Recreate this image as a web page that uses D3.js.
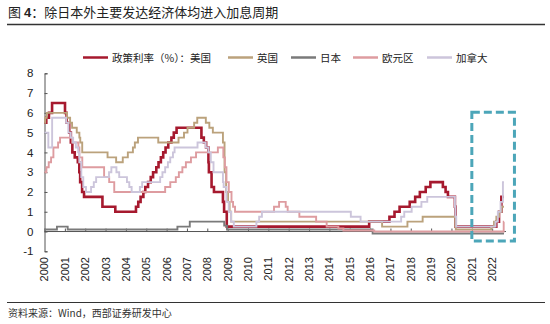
<!DOCTYPE html>
<html><head><meta charset="utf-8">
<script src="https://cdn.jsdelivr.net/npm/d3@7"></script>
<style>body{margin:0;background:#fff}svg{display:block}</style>
</head><body>
<svg id="c" width="550" height="324"></svg>
<script>
const usDates = ["2000-01-01","2000-02-02","2000-03-21","2000-05-16","2001-01-03","2001-01-31","2001-03-20","2001-04-18","2001-05-15","2001-06-27","2001-08-21","2001-09-17","2001-10-02","2001-11-06","2001-12-11","2002-11-06","2003-06-25","2004-06-30","2004-08-10","2004-09-21","2004-11-10","2004-12-14","2005-02-02","2005-03-22","2005-05-03","2005-06-30","2005-08-09","2005-09-20","2005-11-01","2005-12-13","2006-01-31","2006-03-28","2006-05-10","2006-06-29","2007-09-18","2007-10-31","2007-12-11","2008-01-22","2008-01-30","2008-03-18","2008-04-30","2008-10-08","2008-10-29","2008-12-16","2015-12-16","2016-12-14","2017-03-15","2017-06-14","2017-12-13","2018-03-21","2018-06-13","2018-09-26","2018-12-19","2019-07-31","2019-09-18","2019-10-30","2020-03-03","2020-03-15","2022-03-16","2022-05-04","2022-06-15"];
const usRates = [5.5,5.75,6.0,6.5,6.0,5.5,5.0,4.5,4.0,3.75,3.5,3.0,2.5,2.0,1.75,1.25,1.0,1.25,1.5,1.75,2.0,2.25,2.5,2.75,3.0,3.25,3.5,3.75,4.0,4.25,4.5,4.75,5.0,5.25,4.75,4.5,4.25,3.5,3.0,2.25,2.0,1.5,1.0,0.25,0.5,0.75,1.0,1.25,1.5,1.75,2.0,2.25,2.5,2.25,2.0,1.75,1.25,0.25,0.5,1.0,1.75];

const ukDates = ["2000-01-01","2000-01-13","2000-02-10","2001-02-08","2001-04-05","2001-05-10","2001-08-02","2001-09-18","2001-10-04","2001-11-08","2003-02-06","2003-07-10","2003-11-06","2004-02-05","2004-05-06","2004-06-10","2004-08-05","2005-08-04","2006-08-03","2006-11-09","2007-01-11","2007-05-10","2007-07-05","2007-12-06","2008-02-07","2008-04-10","2008-10-08","2008-11-06","2008-12-04","2009-01-08","2009-02-05","2009-03-05","2016-08-04","2017-11-02","2018-08-02","2020-03-11","2020-03-19","2021-12-16","2022-02-03","2022-03-17","2022-05-05","2022-06-16"];
const ukRates = [5.5,5.75,6.0,5.75,5.5,5.25,5.0,4.75,4.5,4.0,3.75,3.5,3.75,4.0,4.25,4.5,4.75,4.5,4.75,5.0,5.25,5.5,5.75,5.5,5.25,5.0,4.5,3.0,2.0,1.5,1.0,0.5,0.25,0.5,0.75,0.25,0.1,0.25,0.5,0.75,1.0,1.25];

const jpDates = ["2000-01-01","2000-08-11","2001-02-20","2006-07-14","2007-02-21","2008-10-31","2008-12-19","2016-02-16"];
const jpRates = [0.1,0.25,0.1,0.25,0.5,0.3,0.1,-0.1];

const euDates = ["2000-01-01","2000-02-04","2000-03-17","2000-04-28","2000-06-09","2000-09-01","2000-10-06","2001-05-11","2001-08-31","2001-09-18","2001-11-09","2002-12-06","2003-03-07","2003-06-06","2005-12-06","2006-03-08","2006-06-15","2006-08-09","2006-10-11","2006-12-13","2007-03-14","2007-06-13","2008-07-09","2008-10-15","2008-11-12","2008-12-10","2009-01-21","2009-03-11","2009-04-08","2009-05-13","2011-04-13","2011-07-13","2011-11-09","2011-12-14","2012-07-11","2013-05-08","2013-11-13","2014-06-11","2014-09-10","2016-03-16","2022-07-27"];
const euRates = [3.0,3.25,3.5,3.75,4.25,4.5,4.75,4.5,4.25,3.75,3.25,2.75,2.5,2.0,2.25,2.5,2.75,3.0,3.25,3.5,3.75,4.0,4.25,3.75,3.25,2.5,2.0,1.5,1.25,1.0,1.25,1.5,1.25,1.0,0.75,0.5,0.25,0.15,0.05,0.0,0.5];

const caDates = ["2000-01-01","2000-03-10","2000-05-17","2001-01-23","2001-03-06","2001-04-17","2001-05-29","2001-07-17","2001-08-28","2001-09-17","2001-10-23","2001-11-27","2002-01-15","2002-04-16","2002-06-04","2002-07-16","2003-03-04","2003-04-15","2003-07-15","2003-09-03","2004-01-20","2004-03-02","2004-04-13","2004-09-08","2004-10-19","2005-09-07","2005-10-18","2005-12-06","2006-01-24","2006-03-07","2006-04-25","2006-05-24","2007-07-10","2007-12-04","2008-01-22","2008-03-04","2008-04-22","2008-10-08","2008-10-21","2008-12-09","2009-01-20","2009-03-03","2009-04-21","2010-06-01","2010-07-20","2010-09-08","2015-01-21","2015-07-15","2017-07-12","2017-09-06","2018-01-17","2018-07-11","2018-10-24","2020-03-04","2020-03-13","2020-03-27","2022-03-02","2022-04-13","2022-06-01","2022-07-13"];
const caRates = [5.0,4.25,5.75,5.5,5.0,4.75,4.5,4.25,4.0,3.5,2.75,2.25,2.0,2.25,2.5,2.75,3.0,3.25,3.0,2.75,2.5,2.25,2.0,2.25,2.5,2.75,3.0,3.25,3.5,3.75,4.0,4.25,4.5,4.25,4.0,3.5,3.0,2.5,2.25,1.5,1.0,0.5,0.25,0.5,0.75,1.0,0.75,0.5,0.75,1.0,1.25,1.5,1.75,1.25,0.75,0.25,0.5,1.0,1.5,2.5];

const endDate = "2022-08-01";
const seriesNames = ["政策利率（%）：美国","英国","日本","欧元区","加拿大"];
const yTicks = [-1,0,1,2,3,4,5,6,7,8];
const yearLabels = d3.range(2000, 2023).map(String);
const boxRange = {from:"2021-01-01", to:"2023-02-05", top:6.03, bottom:-0.48};

const parse = d3.timeParse("%Y-%m-%d");
const svg = d3.select("#c");
const cjk = "'Noto Sans CJK SC', sans-serif";
const latin = "'Liberation Sans', Arial, sans-serif";

const x = d3.scaleTime().domain([parse("2000-01-01"), parse("2023-01-01")]).range([44.5, 512.5]);
const y = d3.scaleLinear().domain([-1, 8]).range([251.3, 73.3]);

// title
const t = svg.append("text").attr("x", 8).attr("y", 17).attr("font-family", cjk).attr("font-size", 13).attr("fill", "#222");
t.append("tspan").text("图 ");
t.append("tspan").attr("font-family", latin).attr("font-weight", "bold").text("4");
t.append("tspan").text("：除日本外主要发达经济体均进入加息周期");
svg.append("line").attr("x1", 7).attr("x2", 545).attr("y1", 24.5).attr("y2", 24.5).attr("stroke", "#333").attr("stroke-width", 1.5);

// bottom
svg.append("line").attr("x1", 7).attr("x2", 545).attr("y1", 302.5).attr("y2", 302.5).attr("stroke", "#333").attr("stroke-width", 1);
svg.append("text").attr("x", 8).attr("y", 317).attr("font-family", cjk).attr("font-size", 10).attr("fill", "#333").text("资料来源：Wind，西部证券研发中心");

// y axis
const yAxis = svg.append("g").attr("transform", "translate(44.5,0)")
  .call(d3.axisLeft(y).tickValues(yTicks).tickSize(-3).tickPadding(11).tickFormat(d => String(d)));
yAxis.select(".domain").attr("stroke", "#555");
yAxis.selectAll(".tick line").attr("stroke", "#555");
yAxis.selectAll("text").attr("font-family", latin).attr("font-size", 11.5).attr("fill", "#222");

// x axis at zero
const xTickDates = yearLabels.map(s => parse(s + "-01-01"));
const xAxis = svg.append("g").attr("transform", `translate(0,${y(0)})`)
  .call(d3.axisBottom(x).tickValues(xTickDates).tickSize(-3).tickFormat(""));
xAxis.select(".domain").attr("stroke", "#555").attr("d", `M44.5,0H506`);
xAxis.selectAll(".tick line").attr("stroke", "#555");

// x labels (rotated, at bottom)
svg.append("g").selectAll("text").data(yearLabels).join("text")
  .attr("transform", d => `translate(${x(parse(d + "-01-01"))},257) rotate(-90)`)
  .attr("text-anchor", "end").attr("dy", "0.36em")
  .attr("font-family", latin).attr("font-size", 11).attr("fill", "#222")
  .text(d => d);

// series
const colors = ["#A6192E", "#BBA27C", "#7A7A7A", "#DE9CA0", "#CCC5DB"];
const widths = [2.6, 1.9, 1.9, 1.9, 1.9];
const allDates = [usDates, ukDates, jpDates, euDates, caDates];
const allRates = [usRates, ukRates, jpRates, euRates, caRates];
const line = d3.line().x(d => x(d[0])).y(d => y(d[1])).curve(d3.curveStepAfter);
allDates.forEach((ds, i) => {
  const pts = ds.map((d, j) => [parse(d), allRates[i][j]]);
  pts.push([parse(endDate), allRates[i][allRates[i].length - 1]]);
  svg.append("path").datum(pts).attr("d", line).attr("fill", "none")
    .attr("stroke", colors[i]).attr("stroke-width", widths[i]).attr("stroke-linejoin", "miter");
});

// dashed box
svg.append("rect")
  .attr("x", x(parse(boxRange.from))).attr("y", y(boxRange.top))
  .attr("width", x(parse(boxRange.to)) - x(parse(boxRange.from)))
  .attr("height", y(boxRange.bottom) - y(boxRange.top))
  .attr("fill", "none").attr("stroke", "#4CA6B9").attr("stroke-width", 3).attr("stroke-dasharray", "8,4");

// legend
const legX = [83, 228, 291, 353, 427];
const lg = svg.append("g");
seriesNames.forEach((n, i) => {
  lg.append("line").attr("x1", legX[i]).attr("x2", legX[i] + 25).attr("y1", 57.5).attr("y2", 57.5)
    .attr("stroke", colors[i]).attr("stroke-width", 2.5);
  lg.append("text").attr("x", legX[i] + 29).attr("y", 61.5).attr("font-family", cjk).attr("font-size", 10.5)
    .attr("fill", "#222").text(n);
});
</script>
</body></html>
